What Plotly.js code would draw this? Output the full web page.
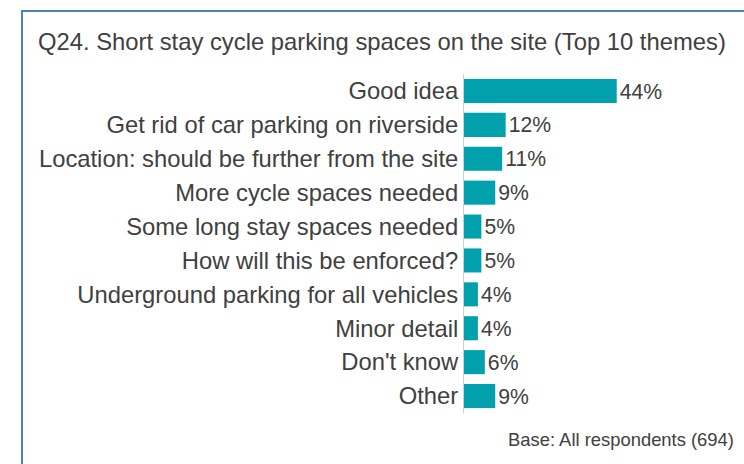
<!DOCTYPE html>
<html>
<head>
<meta charset="utf-8">
<script src="https://cdn.plot.ly/plotly-3.0.1.min.js"></script>
<style>html,body{margin:0;padding:0;background:#fff;}#chart{width:744px;height:464px;}</style>
</head>
<body>
<div id="chart"></div>
<script>
const categories = [
  "Good idea",
  "Get rid of car parking on riverside",
  "Location: should be further from the site",
  "More cycle spaces needed",
  "Some long stay spaces needed",
  "How will this be enforced?",
  "Underground parking for all vehicles",
  "Minor detail",
  "Don't know",
  "Other"
];
const values = [44, 12, 11, 9, 5, 5, 4, 4, 6, 9];
const valueLabels = values.map(v => v + "%");
const titleText = "Q24. Short stay cycle parking spaces on the site (Top 10 themes)";
const baseText = "Base: All respondents (694)";

const W = 744, H = 464;
const M = {l: 464, r: 70, t: 74, b: 51};
const pw = W - M.l - M.r, ph = H - M.t - M.b;
const px2x = x => (x - M.l) / pw;
const py2y = y => 1 - (y - M.t) / ph;
const font = "Liberation Sans, Arial, sans-serif";
const textColor = "#404040";
const borderColor = "#4f81bd";

const trace = {
  type: "bar",
  orientation: "h",
  y: categories,
  x: values,
  text: valueLabels,
  textposition: "outside",
  textfont: {family: font, size: 23.8, color: textColor},
  marker: {color: "#00a0ac"},
  cliponaxis: false,
  hoverinfo: "skip"
};

const layout = {
  width: W, height: H,
  margin: M,
  paper_bgcolor: "#ffffff",
  plot_bgcolor: "#ffffff",
  showlegend: false,
  bargap: 0.29,
  font: {family: font, color: textColor},
  title: {
    text: titleText,
    font: {family: font, size: 23.8, color: textColor},
    x: 38 / W, xref: "container", xanchor: "left",
    y: 1 - 42 / H, yref: "container", yanchor: "middle"
  },
  xaxis: {range: [0, 60.5], visible: false, fixedrange: true},
  yaxis: {
    autorange: "reversed",
    showline: true, linecolor: "#d0d0d0", linewidth: 1,
    ticks: "", showgrid: false, zeroline: false,
    tickfont: {family: font, size: 23.8, color: textColor},
    ticklabelstandoff: 0,
    fixedrange: true
  },
  annotations: [{
    text: baseText,
    xref: "paper", yref: "paper",
    x: px2x(736), y: py2y(440),
    xanchor: "right", yanchor: "middle",
    showarrow: false,
    font: {family: font, size: 18.4, color: textColor}
  }],
  shapes: [
    {type: "line", xref: "paper", yref: "paper",
     x0: px2x(22), x1: px2x(22), y0: py2y(11), y1: py2y(H + 5),
     line: {color: borderColor, width: 2}},
    {type: "line", xref: "paper", yref: "paper",
     x0: px2x(21), x1: px2x(W + 5), y0: py2y(11), y1: py2y(11),
     line: {color: borderColor, width: 2}}
  ]
};

Plotly.newPlot("chart", [trace], layout, {displayModeBar: false, staticPlot: true});
</script>
</body>
</html>
